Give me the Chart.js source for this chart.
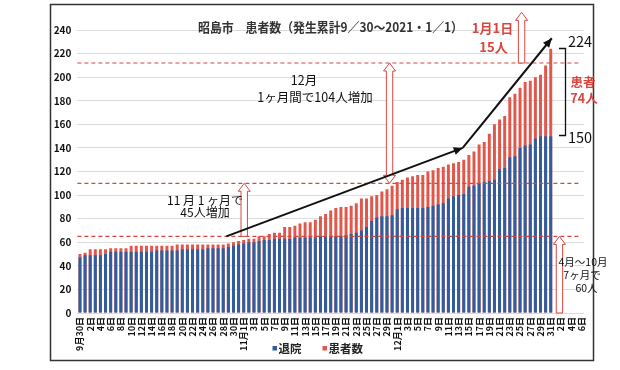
<!DOCTYPE html>
<html lang="ja">
<head>
<meta charset="utf-8">
<title>昭島市 患者数</title>
<script src="https://cdn.jsdelivr.net/npm/chart.js@4.4.1/dist/chart.umd.min.js"></script>
<style>
  html, body { margin: 0; padding: 0; background: #fff; }
  #wrap { position: relative; width: 620px; height: 370px; }
</style>
</head>
<body>
<div id="wrap"><canvas id="chart" width="620" height="370"></canvas></div>
<script>
const FONT = "'Noto Sans CJK JP', 'Liberation Sans', sans-serif";

// 日付 (9/30 〜 1/6)
const dateLabels = [
  '9月30日',
  '10月1日', '2日', '3日', '4日', '5日', '6日', '7日', '8日', '9日', '10日',
  '11日', '12日', '13日', '14日', '15日', '16日', '17日', '18日', '19日', '20日',
  '21日', '22日', '23日', '24日', '25日', '26日', '27日', '28日', '29日', '30日', '31日',
  '11月1日', '2日', '3日', '4日', '5日', '6日', '7日', '8日', '9日', '10日',
  '11日', '12日', '13日', '14日', '15日', '16日', '17日', '18日', '19日', '20日',
  '21日', '22日', '23日', '24日', '25日', '26日', '27日', '28日', '29日', '30日',
  '12月1日', '2日', '3日', '4日', '5日', '6日', '7日', '8日', '9日', '10日',
  '11日', '12日', '13日', '14日', '15日', '16日', '17日', '18日', '19日', '20日',
  '21日', '22日', '23日', '24日', '25日', '26日', '27日', '28日', '29日', '30日', '31日',
  '1月1日', '2日', '3日', '4日', '5日', '6日'
];

// 患者数 (累計)
const totalCases = [
  50,
  51, 54, 54, 54, 54, 55, 55, 55, 55, 57,
  57, 57, 57, 57, 57, 57, 57, 57, 58, 58,
  58, 58, 58, 58, 58, 58, 58, 58, 59, 60, 61,
  62, 63, 63, 65, 65, 67, 68, 68, 73, 73,
  74, 76, 77, 77, 79, 82, 84, 87, 89, 90,
  90, 91, 93, 97, 97, 99, 100, 103, 105, 108,
  111, 113, 115, 116, 117, 117, 120, 121, 123, 124,
  126, 127, 128, 130, 134, 137, 143, 145, 152, 160,
  164, 167, 183, 186, 191, 196, 197, 200, 202, 210, 224,
  null, null, null, null, null, null
];

// 退院 (累計)
const discharged = [
  47,
  49, 49, 49, 49, 50, 52, 52, 52, 52, 52,
  52, 52, 52, 52, 53, 53, 53, 53, 53, 54,
  54, 54, 54, 54, 55, 55, 55, 55, 56, 57, 58,
  59, 60, 60, 61, 62, 62, 63, 63, 63, 63,
  64, 64, 64, 64, 64, 65, 65, 65, 65, 65,
  66, 67, 68, 70, 73, 78, 81, 82, 82, 83,
  88, 89, 89, 89, 89, 89, 90, 91, 92, 93,
  97, 99, 100, 101, 107, 108, 110, 111, 112, 113,
  122, 123, 132, 133, 140, 142, 143, 148, 150, 150, 150,
  null, null, null, null, null, null
];

const seriesNames = ['退院', '患者数'];
const BLUE = '#2f5d9e';
const RED = '#e2574c';
const LINE_RED = '#d9453f';

// ---- 注記 (データ座標) ----
const guideValues = [65, 110, 212];                 // 赤の点線
const trendIdx = [28.6, 74.8, 92.2];                // 黒の矢印
const trendVal = [65, 140, 233];
const hollowArrows = [
  { idx: 32.1, from: 65,  to: 110, both: false },
  { idx: 60.5, from: 110, to: 212, both: true  },
  { idx: 86.3, from: 212, to: 255, both: false },
  { idx: 93.7, from: 0,   to: 65,  both: false }
];

function arrowHead(ctx, x0, y0, x1, y1) {
  const a = Math.atan2(y1 - y0, x1 - x0);
  const len = 9, half = 4;
  ctx.beginPath();
  ctx.moveTo(x1, y1);
  ctx.lineTo(x1 - len * Math.cos(a) + half * Math.sin(a),
             y1 - len * Math.sin(a) - half * Math.cos(a));
  ctx.lineTo(x1 - len * Math.cos(a) - half * Math.sin(a),
             y1 - len * Math.sin(a) + half * Math.cos(a));
  ctx.closePath();
  ctx.fill();
}

// 白抜きの縦矢印 (上向き、both なら両向き)
function hollowArrow(ctx, x, yTop, yBottom, both) {
  const sw = 3.2, hw = 6, hl = 8;
  ctx.beginPath();
  ctx.moveTo(x, yTop);
  ctx.lineTo(x + hw, yTop + hl);
  ctx.lineTo(x + sw, yTop + hl);
  if (both) {
    ctx.lineTo(x + sw, yBottom - hl);
    ctx.lineTo(x + hw, yBottom - hl);
    ctx.lineTo(x, yBottom);
    ctx.lineTo(x - hw, yBottom - hl);
    ctx.lineTo(x - sw, yBottom - hl);
  } else {
    ctx.lineTo(x + sw, yBottom);
    ctx.lineTo(x - sw, yBottom);
  }
  ctx.lineTo(x - sw, yTop + hl);
  ctx.lineTo(x - hw, yTop + hl);
  ctx.closePath();
  ctx.fillStyle = '#fff';
  ctx.fill();
  ctx.strokeStyle = LINE_RED;
  ctx.lineWidth = 1;
  ctx.stroke();
}

function text(ctx, str, x, y, size, color, weight) {
  ctx.font = `${weight || 'normal'} ${size}px ${FONT}`;
  ctx.fillStyle = color;
  ctx.fillText(str, x, y);
}

const annotations = {
  id: 'annotations',
  beforeDraw(chart) {
    const ctx = chart.ctx;
    ctx.save();
    ctx.strokeStyle = '#333';
    ctx.lineWidth = 1.5;
    ctx.strokeRect(50.5, 4.5, 543, 356);
    ctx.restore();
  },
  afterDatasetsDraw(chart) {
    const ctx = chart.ctx;
    const xs = chart.scales.x, ys = chart.scales.y;
    const area = chart.chartArea;
    ctx.save();

    // 点線
    ctx.setLineDash([4, 3]);
    ctx.strokeStyle = LINE_RED;
    ctx.lineWidth = 1.2;
    guideValues.forEach(v => {
      const y = ys.getPixelForValue(v);
      ctx.beginPath();
      ctx.moveTo(area.left, y);
      ctx.lineTo(area.right - 4, y);
      ctx.stroke();
    });
    ctx.setLineDash([]);

    // 白抜き矢印
    hollowArrows.forEach(a => {
      hollowArrow(ctx, xs.getPixelForValue(a.idx),
                  ys.getPixelForValue(a.to), ys.getPixelForValue(a.from), a.both);
    });

    // 黒い増加トレンド矢印
    const px = trendIdx.map(i => xs.getPixelForValue(i));
    const py = trendVal.map(v => ys.getPixelForValue(v));
    ctx.strokeStyle = '#111';
    ctx.fillStyle = '#111';
    ctx.lineWidth = 2;
    for (let i = 0; i < px.length - 1; i++) {
      ctx.beginPath();
      ctx.moveTo(px[i], py[i]);
      ctx.lineTo(px[i + 1], py[i + 1]);
      ctx.stroke();
      arrowHead(ctx, px[i], py[i], px[i + 1], py[i + 1]);
    }

    // 括弧
    ctx.strokeStyle = '#111';
    ctx.lineWidth = 1.3;
    ctx.beginPath();
    ctx.moveTo(559, 48.5);
    ctx.lineTo(565.5, 48.5);
    ctx.lineTo(565.5, 135.5);
    ctx.lineTo(559, 135.5);
    ctx.stroke();

    // テキスト
    ctx.textAlign = 'left';
    ctx.textBaseline = 'middle';
    ctx.font = `bold 13px ${FONT}`;
    ctx.fillStyle = '#333';
    ctx.fillText('昭島市　患者数（発生累計9／30～2021・1／1）', 198, 27, 265);

    ctx.textAlign = 'center';
    text(ctx, '11 月 1 ヶ月で', 205, 200.5, 12, '#111');
    text(ctx, '45人増加', 205, 212, 12, '#111');
    text(ctx, '12月', 304, 80.5, 12.5, '#111');
    text(ctx, '1ヶ月間で104人増加', 315, 97, 12.5, '#111');
    text(ctx, '1月1日', 492.5, 28.5, 13, LINE_RED, 'bold');
    text(ctx, '15人', 493.5, 47.5, 13, LINE_RED, 'bold');
    text(ctx, '224', 580, 41.5, 14.5, '#111');
    text(ctx, '150', 580, 137, 14.5, '#111');
    text(ctx, '患者', 583, 82.5, 12.5, LINE_RED, 'bold');
    text(ctx, '74人', 584, 98.5, 12.5, LINE_RED, 'bold');
    text(ctx, '4月～10月', 583, 262, 10.5, '#111');
    text(ctx, '7ヶ月で', 582, 275, 10.5, '#111');
    text(ctx, '60人', 586.5, 288, 10.5, '#111');

    // 凡例
    ctx.textAlign = 'left';
    ctx.fillStyle = BLUE;
    ctx.fillRect(272.5, 346, 4.5, 4.5);
    text(ctx, seriesNames[0], 278.5, 349, 11.5, '#222', 'bold');
    ctx.fillStyle = RED;
    ctx.fillRect(322.5, 346, 4.5, 4.5);
    text(ctx, seriesNames[1], 328.5, 349, 11.5, '#222', 'bold');

    ctx.restore();
  }
};

new Chart(document.getElementById('chart'), {
  type: 'bar',
  data: {
    labels: dateLabels,
    datasets: [
      {
        label: seriesNames[0],
        data: discharged,
        backgroundColor: BLUE,
        grouped: false,
        categoryPercentage: 0.58,
        barPercentage: 1.0
      },
      {
        label: seriesNames[1],
        data: totalCases,
        backgroundColor: RED,
        grouped: false,
        categoryPercentage: 0.58,
        barPercentage: 1.0
      }
    ]
  },
  options: {
    responsive: false,
    animation: false,
    layout: { padding: { left: 50, right: 36, top: 30, bottom: 0 } },
    plugins: {
      legend: { display: false },
      tooltip: { enabled: false }
    },
    scales: {
      x: {
        grid: { display: false, drawTicks: false },
        border: { display: false },
        ticks: {
          autoSkip: false,
          minRotation: 90,
          maxRotation: 90,
          padding: 4,
          color: '#111',
          font: { family: FONT, size: 9, weight: 'bold' },
          callback: (val, idx) => idx % 2 === 0 ? dateLabels[idx] : ''
        },
        afterFit: (s) => { s.height = 57; }
      },
      y: {
        min: 0,
        max: 240,
        grid: { color: '#dcdcdc', drawTicks: false },
        border: { display: false },
        ticks: {
          stepSize: 10,
          padding: 6,
          color: '#111',
          font: { family: FONT, size: 10, weight: 'bold' }
        },
        afterFit: (s) => { s.width = 27.4; }
      }
    }
  },
  plugins: [annotations]
});
</script>
</body>
</html>
